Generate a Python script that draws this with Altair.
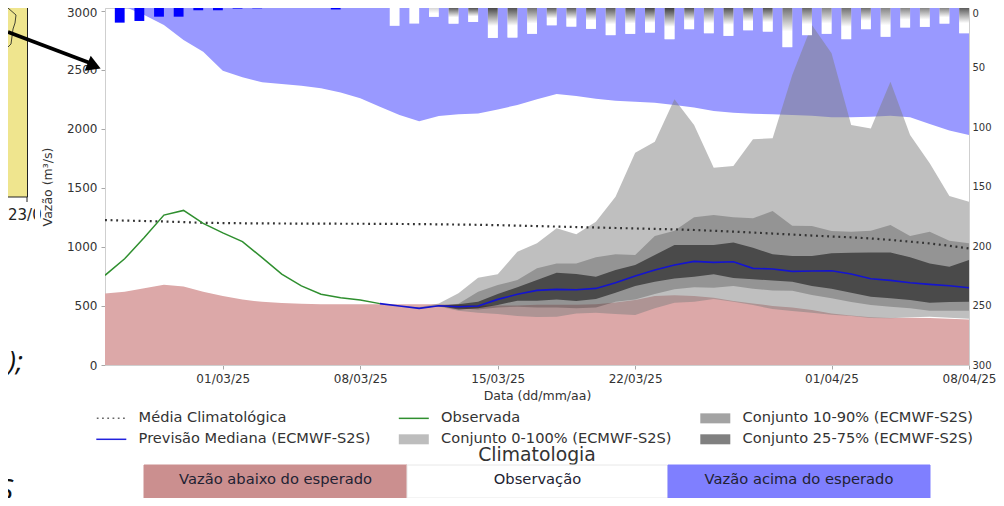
import altair as alt
import pandas as pd

days = pd.date_range("2025-02-23", periods=45, freq="D")

clim_upper = [3036,3036,2966,2881,2754,2655,2494,2438,2395,2381,2367,2344,2308,2260,2189,2118,2065,2110,2124,2132,2166,2203,2251,2296,2279,2257,2240,2231,2223,2203,2181,2152,2138,2130,2124,2118,2113,2099,2099,2104,2113,2099,2042,1986,1949]
clim_lower = [605,620,650,680,665,620,585,555,535,525,520,515,515,515,515,515,515,515,510,505,505,505,510,510,510,515,530,550,585,590,585,570,542,522,500,488,466,437,420,405,398,400,398,392,385]
clim_mean = [1228,1224,1220,1216,1211,1205,1203,1201,1200,1199,1198,1198,1197,1197,1196,1195,1194,1192,1190,1188,1185,1181,1177,1173,1169,1165,1161,1157,1153,1149,1144,1137,1130,1122,1114,1105,1097,1089,1082,1072,1060,1045,1030,1010,988]
observed = [760,900,1080,1270,1310,1200,1120,1045,910,770,670,600,570,550,520]

fc_days = days[15:]
ens_max = [500,490,522,607,740,768,960,1031,1158,1107,1214,1426,1799,1892,2251,2034,1672,1686,1912,1921,2457,2881,2641,2034,2005,2401,1949,1709,1432,1384]
ens_q90 = [500,482,505,520,621,678,720,819,861,861,912,938,932,1093,1138,1251,1271,1251,1243,1305,1180,1178,1135,1130,1138,1186,1093,1130,1053,1031]
ens_q75 = [500,480,503,514,536,601,658,720,782,771,748,805,847,932,1017,1017,1017,1039,994,938,923,923,946,952,954,954,912,861,833,890]
median = [500,480,502,494,500,556,599,632,641,638,649,697,754,805,847,878,870,875,819,813,793,796,799,771,731,717,697,683,672,655]
ens_q25 = [500,480,500,471,480,508,545,545,556,542,559,613,669,706,734,748,768,737,726,717,706,669,647,613,579,565,550,528,533,536]
ens_q10 = [500,480,498,480,471,488,494,488,488,480,488,536,556,601,641,658,655,669,647,632,630,593,565,533,508,494,480,460,460,460]
ens_min = [500,480,495,460,443,432,415,406,409,437,443,432,423,480,528,536,560,536,508,474,457,443,426,415,398,396,405,408,400,392]

rain = [12.3,10.9,7.3,7.3,1.9,1.9,0.5,0.3,0,0,0,1.2,0,0,15.0,13.1,7.5,13.1,11.7,25.1,24.8,21.7,14.5,15.6,17.5,22.8,21.7,20.6,26.2,17.8,21.2,23.4,18.7,19.8,32.9,22.8,21.7,26.2,17.8,24.2,16.4,15.9,13.1,21.2]
rain_top_shade = [0,0,.2,.8,.85,.9,.85,.7,.8,.8,.85,.8,.85,.9,.95,.85,.7,.85,.8,.85,.7,.75,.6,.7,.7,.6,.6,.6,.6,.8]

legend_labels = ["Média Climatológica","Previsão Mediana (ECMWF-S2S)","Observada","Conjunto 0-100% (ECMWF-S2S)","Conjunto 10-90% (ECMWF-S2S)","Conjunto 25-75% (ECMWF-S2S)"]
legend_colors = ["#666666","#2222dd","#2f8f2f","#bdbdbd","#a3a3a3","#808080"]
tick_dates = [(3,1),(3,8),(3,15),(3,22),(4,1),(4,8)]

class_labels = ["Vazão abaixo do esperado","Observação","Vazão acima do esperado"]
class_colors = ["#cb8f8f","#ffffff","#7f7fff"]

FONT = "DejaVu Sans"
INK = "#333333"
LEFT, TOP = 105, 8
def px(v): return v - LEFT
def py(v): return v - TOP

x_scale = alt.Scale(domain=[alt.DateTime(year=2025, month=2, date=23), alt.DateTime(year=2025, month=4, date=8)])
x_axis = alt.Axis(values=[alt.DateTime(year=2025, month=m, date=d) for m, d in tick_dates], format="%d/%m/%y", title="Data (dd/mm/aa)",
                  grid=False, tickSize=4, labelPadding=4, titlePadding=5, titleFontSize=12.5, labelFontSize=12, labelOverlap=False, labelFlush=False)
y_scale = alt.Scale(domain=[0, 3025], nice=False)
y_axis = alt.Axis(values=[0,500,1000,1500,2000,2500,3000], format="d", title="Vazão (m³/s)", grid=False, tickSize=4, labelPadding=4, titlePadding=12,
                  titleFontSize=12.5, labelFontSize=12, labelOffset=alt.expr("datum.value == 3000 ? 2 : 0"))
X = alt.X("t:T", scale=x_scale, axis=x_axis)
Y = alt.Y("v:Q", scale=y_scale, axis=y_axis)

def band(dates, lo, hi, color, opacity):
    d = pd.DataFrame({"t": dates, "v": lo, "v2": hi})
    return alt.Chart(d).mark_area(color=color, opacity=opacity, interpolate="linear").encode(x=X, y=Y, y2="v2:Q")

def curve(dates, vals, color, width, dash=None):
    d = pd.DataFrame({"t": dates, "v": vals})
    kw = {"strokeDash": dash} if dash else {}
    return alt.Chart(d).mark_line(color=color, strokeWidth=width, clip=True, **kw).encode(x=X, y=Y)

layers = [
    band(days, clim_upper, [3036]*45, "#9999ff", 1),
    band(days, [0]*45, clim_lower, "#dca8a8", 1),
    band(fc_days, ens_min, ens_max, "#808080", 0.5),
    band(fc_days, ens_q10, ens_q90, "#000000", 0.225),
    band(fc_days, ens_q25, ens_q75, "#000000", 0.5),
    curve(days, clim_mean, "#333333", 2.2, [1.9, 3.7]),
    curve(days[:15], observed, "#2f8f2f", 1.5),
    curve(days[14:], [520] + median, "#1414d0", 1.6),
]

# legend carried by an invisible helper mark
def dots():
    return "".join(f"M{-2.9+i*1.05:.2f},-.15h.35v.3h-.35Z" for i in range(6))
legend_shapes = [dots(), "M-3,-.15H3V.15H-3Z", "M-3,-.15H3V.15H-3Z", "M-3,-1H3V1H-3Z", "M-3,-1H3V1H-3Z", "M-3,-1H3V1H-3Z"]
legend_layer = alt.Chart(pd.DataFrame({"s": legend_labels})).mark_point(filled=True, opacity=0, size=100).encode(
    color=alt.Color("s:N", scale=alt.Scale(domain=legend_labels, range=legend_colors), legend=alt.Legend(
        title=None, orient="none", legendX=-1, legendY=403, columns=3, direction="vertical", symbolOpacity=1, symbolSize=100,
        labelFontSize=14.6, labelColor=INK, labelFont=FONT, labelOffset=20, labelLimit=400, columnPadding=27.5, rowPadding=6)),
    shape=alt.Shape("s:N", scale=alt.Scale(domain=legend_labels, range=legend_shapes), legend=None),
)
layers.append(legend_layer)

def rule(x1, y1, x2, y2, color, width):
    return alt.Chart(pd.DataFrame({"a": [0]})).mark_rule(color=color, strokeWidth=width).encode(
        x=alt.value(px(x1)), x2=alt.value(px(x2)), y=alt.value(py(y1)), y2=alt.value(py(y2)))
def box(x1, y1, x2, y2, color, **kw):
    return alt.Chart(pd.DataFrame({"a": [0]})).mark_rect(color=color, **kw).encode(
        x=alt.value(px(x1)), x2=alt.value(px(x2)), y=alt.value(py(y1)), y2=alt.value(py(y2)))
def label(x, y, text, size, color=INK, align="center", font=FONT, **kw):
    return alt.Chart(pd.DataFrame({"a": [text]})).mark_text(fontSize=size, color=color, align=align, baseline="middle", font=font, **kw).encode(
        x=alt.value(px(x)), y=alt.value(py(y)), text="a:N")

# neighbouring slide content seen at the left edge
deco = [
    box(8, 8, 27.5, 197, "#efe58e"),
    rule(27.5, 8, 27.5, 197, "#222222", 1),
    rule(8, 197, 27.5, 197, "#222222", 1),
    rule(27, 197, 27, 202, "#222222", 1),
    rule(8, 8, 16, 15, "#444433", 1), rule(16, 15, 15, 23, "#444433", 1), rule(15, 23, 13, 29, "#444433", 1),
    rule(13, 29, 11, 44, "#444433", 1), rule(11, 44, 8, 47, "#444433", 1),
    label(8, 215, "23/0", 15, "#222222", align="left"),
    box(35, 205, 40, 226, "#ffffff"),
    label(8, 363, ");", 28, "#111111", align="left", font="Open Sans", fontStyle="italic"),
    label(13, 491, "S", 30, "#111111", align="right", font="Open Sans", fontStyle="italic"),
    rule(8, 32, 90, 63, "#000000", 3.6),
    alt.Chart(pd.DataFrame({"a": [0]})).mark_point(shape="triangle", filled=True, color="#000000", opacity=1, size=260, angle=112).encode(
        x=alt.value(px(92)), y=alt.value(py(65))),
]

# climatology key below the legend
class_edges = [144, 407, 668, 930]
key = [label(537, 455, "Climatologia", 18.8, INK)]
for i, (lab, col) in enumerate(zip(class_labels, class_colors)):
    key.append(box(class_edges[i], 465, class_edges[i+1], 498, col, stroke="#e8e8e8" if col == "#ffffff" else col, strokeWidth=1))
    key.append(label((class_edges[i] + class_edges[i+1]) / 2, 479.5, lab, 14.7, "#222233"))

left_group = alt.layer(*layers, *deco, *key)

# rain bars on the reversed right axis
bar_end = days[1:]
bar_start = bar_end - pd.Timedelta(hours=12)
rain_df = pd.DataFrame({"t": bar_start, "t2": bar_end, "v": rain, "z": 0})
R_Y = alt.Y("v:Q", scale=alt.Scale(domain=[0, 300], reverse=True, nice=False),
            axis=alt.Axis(orient="right", values=[0,50,100,150,200,250,300], title=None, grid=False, tickSize=0, labelPadding=3, labelFontSize=10,
                          labelBaseline=alt.expr("datum.value == 0 ? 'top' : 'middle'")))
R_X = alt.X("t:T", scale=x_scale, axis=x_axis)
obs_bars = alt.Chart(rain_df.iloc[:14]).mark_rect(color="#0000ff").encode(x=R_X, x2="t2:T", y=R_Y, y2="z:Q")
fc_df = rain_df.iloc[14:].copy()
fc_df["shade"] = rain_top_shade
fc_base = alt.Chart(fc_df).mark_rect(color="#ffffff").encode(x=R_X, x2="t2:T", y=R_Y, y2="z:Q")
grad = alt.Gradient(gradient="linear", x1=0, x2=0, y1=0, y2=1,
                    stops=[alt.GradientStop(offset=0, color="#333333"), alt.GradientStop(offset=0.6, color="#ffffff")])
fc_shade = alt.Chart(fc_df).mark_rect(fill=grad).encode(x=R_X, x2="t2:T", y=R_Y, y2="z:Q",
                                                        opacity=alt.Opacity("shade:Q", scale=None, legend=None))
right_group = alt.layer(obs_bars, fc_base, fc_shade)

chart = alt.layer(left_group, right_group).resolve_scale(y="independent").properties(
    width=864, height=357,
    autosize=alt.AutoSizeParams(type="none"),
    padding={"left": 97, "top": 0, "right": 27, "bottom": 133},
).configure_view(stroke="#cfcfcf", strokeWidth=1).configure_axis(
    labelFont=FONT, titleFont=FONT, labelColor=INK, titleColor=INK, titleFontWeight="normal",
    domainColor="#cfcfcf", tickColor="#a8a8a8",
)

chart.save("out.html", embed_options={"renderer": "svg", "actions": False})
